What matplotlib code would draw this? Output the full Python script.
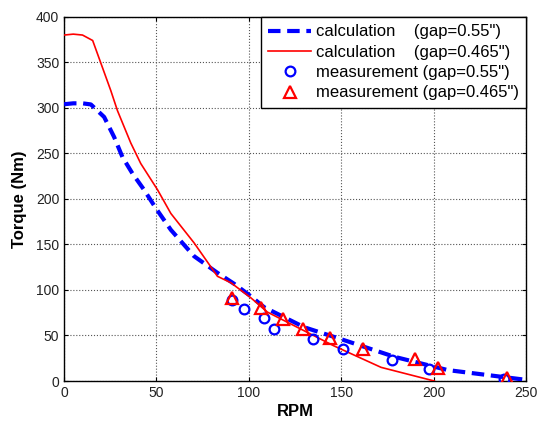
import matplotlib
matplotlib.use("Agg")
import matplotlib.pyplot as plt

plt.rcParams['font.family'] = ['Liberation Sans', 'DejaVu Sans']

# calculation, gap = 0.55"
calc55_rpm = [0, 5, 10, 14.5, 21.7, 27.1, 31.6, 37, 43.3, 49.6, 57.8, 70.4, 83, 92, 101, 108.3, 130, 151.6, 178.7, 207.6, 251]
calc55_tq = [304, 305, 305, 303.8, 290, 268, 246, 228, 210, 190, 166, 137, 118.8, 106.8, 93.2, 81, 59, 44.8, 26.6, 12, 1]

# calculation, gap = 0.465"
calc465_rpm = [0, 5, 10, 15.5, 25.3, 28.9, 36.1, 41.5, 50.6, 57.8, 70.4, 83, 90.3, 101, 110, 146, 171.5, 200.3]
calc465_tq = [380, 381, 380, 374, 319, 297, 261.5, 238.9, 210, 184, 151.6, 115, 107.9, 91.5, 75.7, 38.6, 15, 0]

# measurement, gap = 0.55"
meas55_rpm = [90.6, 97.1, 108.3, 113.4, 134.5, 150.7, 177.3, 197.6, 238.2]
meas55_tq = [88.5, 79.4, 69.6, 57.6, 45.6, 35, 23, 12.8, 2.2]

# measurement, gap = 0.465"
meas465_rpm = [90.6, 106.5, 118.2, 129.4, 143.9, 161.9, 189.9, 202.5, 239.5]
meas465_tq = [91.5, 80.5, 68.5, 57.6, 47.3, 35.7, 23.7, 14.5, 3.6]

x_ticks = [0, 50, 100, 150, 200, 250]
y_ticks = [0, 50, 100, 150, 200, 250, 300, 350, 400]

fig = plt.figure(figsize=(5.38, 4.21), dpi=100)
ax = fig.add_axes([0.119, 0.095, 0.859, 0.865])

ax.plot(calc55_rpm, calc55_tq, color='#0000FF', lw=3.0, ls=(0, (3.0, 1.6)),
        label='calculation    (gap=0.55")', zorder=3)
ax.plot(calc465_rpm, calc465_tq, color='#FF0000', lw=1.2,
        label='calculation    (gap=0.465")', zorder=3)
ax.plot(meas55_rpm, meas55_tq, ls='none', marker='o', ms=7, mfc='none',
        mec='#0000FF', mew=1.6, label='measurement (gap=0.55")', zorder=4)
ax.plot(meas465_rpm, meas465_tq, ls='none', marker='^', ms=8, mfc='none',
        mec='#FF0000', mew=1.6, label='measurement (gap=0.465")', zorder=4)

ax.set_xlim(0, 250)
ax.set_ylim(0, 400)
ax.set_xticks(x_ticks)
ax.set_yticks(y_ticks)
ax.tick_params(direction='in', labelsize=10, length=3, top=True, right=True,
               labeltop=False, labelright=False, colors='black',
               labelcolor='#222222')
ax.grid(True, color='#555555', ls=':', lw=0.8)
for s in ax.spines.values():
    s.set_linewidth(1.0)

ax.set_xlabel('RPM', fontsize=12, fontweight='bold', labelpad=3)
ax.set_ylabel('Torque (Nm)', fontsize=12, fontweight='bold', labelpad=6)

leg = ax.legend(loc='upper right', fontsize=12, frameon=True, fancybox=False,
                edgecolor='black', framealpha=1, borderaxespad=0,
                handlelength=2.6, handletextpad=0.25, labelspacing=0.32,
                borderpad=0.45)
leg.get_frame().set_linewidth(1.0)

fig.savefig('out.png', dpi=100)
